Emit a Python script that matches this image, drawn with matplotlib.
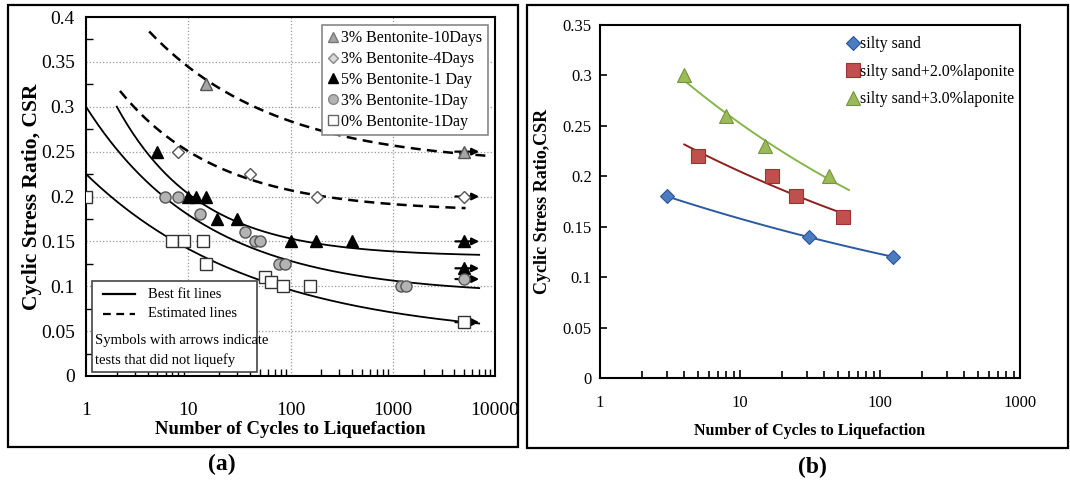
import numpy as np
import matplotlib.pyplot as plt
from matplotlib.patches import Rectangle
from matplotlib.lines import Line2D

plt.rcParams['font.family'] = ['Liberation Serif', 'DejaVu Serif']

# ---------------- panel (a) data: cycles N, CSR ----------------
b10_n = [15]
b10_csr = [0.325]
b10_nl_n = [5000]
b10_nl_csr = [0.25]

b4_n = [8, 40, 180]
b4_csr = [0.25, 0.225, 0.2]
b4_nl_n = [5000]
b4_nl_csr = [0.2]

b5_n = [5, 10, 12, 15, 19, 30, 100, 178, 395]
b5_csr = [0.25, 0.2, 0.2, 0.2, 0.175, 0.175, 0.15, 0.15, 0.15]
b5_nl_n = [5000, 5000]
b5_nl_csr = [0.15, 0.12]

b3_n = [5.9, 7.9, 13, 36, 45, 50, 77, 88, 1200, 1360]
b3_csr = [0.2, 0.2, 0.18, 0.16, 0.15, 0.15, 0.125, 0.125, 0.1, 0.1]
b3_nl_n = [5000]
b3_nl_csr = [0.108]

b0_n = [1, 7, 9, 14, 15, 56, 65, 85, 155]
b0_csr = [0.2, 0.15, 0.15, 0.15, 0.125, 0.11, 0.105, 0.1, 0.1]
b0_nl_n = [5000]
b0_nl_csr = [0.06]

# fitted curves CSR = a + b * N^-c  (10d, 4d, 5%1d, 3%1d, 0%1d)
fit_a = [0.235, 0.183, 0.133, 0.09, 0.04]
fit_b = [0.245, 0.19, 0.243, 0.21, 0.185]
fit_c = [0.35, 0.45, 0.54, 0.37, 0.26]
fit_n0 = [4.15, 2.15, 2.0, 1.0, 1.0]
fit_n1 = [8100, 5150, 7000, 7000, 7000]
fit_dashed = [True, True, False, False, False]

# ---------------- panel (b) data ----------------
ss_n = [3, 31, 124]
ss_csr = [0.18, 0.14, 0.12]
l2_n = [5, 17, 25, 54]
l2_csr = [0.22, 0.2, 0.18, 0.16]
l3_n = [4, 8, 15, 43.5]
l3_csr = [0.3, 0.26, 0.23, 0.2]
trend_rng = [(3, 124), (4, 56), (4, 60)]

fig = plt.figure(figsize=(10.7, 4.88), dpi=100)

# outer frames
fig.patches.append(Rectangle((8/1070, 1-447/488), 510/1070, 442/488, transform=fig.transFigure,
                             fill=False, lw=1.6, ec='k'))
fig.patches.append(Rectangle((527/1070, 1-448/488), 541/1070, 443/488, transform=fig.transFigure,
                             fill=False, lw=1.6, ec='k'))

# ======================= (a) =======================
ax = fig.add_axes([86/1070, 1-376/488, 409/1070, 359/488])
ax.set_xscale('log')
ax.set_xlim(1, 10000)
ax.set_ylim(0, 0.4)
ax.set_yticks(np.arange(0, 0.41, 0.05))
ax.set_yticklabels(['0', '0.05', '0.1', '0.15', '0.2', '0.25', '0.3', '0.35', '0.4'])
ax.set_yticks(np.arange(0.025, 0.4, 0.05), minor=True)
ax.set_xticks([1, 10, 100, 1000, 10000])
ax.set_xticklabels(['1', '10', '100', '1000', '10000'])
ax.grid(True, which='major', ls=':', color='#999999', lw=0.9)
ax.tick_params(which='both', direction='in', labelsize=14, top=False, right=False)
ax.tick_params(axis='x', which='major', length=0, pad=19)
ax.tick_params(axis='x', which='minor', length=5, width=1)
ax.tick_params(axis='y', which='major', length=0, pad=8)
ax.tick_params(axis='y', which='minor', length=5, width=1)
for s in ax.spines.values():
    s.set_linewidth(1.5)

for a, b, c, n0, n1, d in zip(fit_a, fit_b, fit_c, fit_n0, fit_n1, fit_dashed):
    nn = np.logspace(np.log10(n0), np.log10(n1), 200)
    if d:
        ax.plot(nn, a + b * nn ** (-c), color='k', lw=1.8, dashes=(4, 2.5), zorder=2)
    else:
        ax.plot(nn, a + b * nn ** (-c), color='k', lw=1.3, zorder=2)

styles = [
    (b10_n, b10_csr, b10_nl_n, b10_nl_csr, dict(marker='^', ms=8, mfc='#a6a6a6', mec='#555555')),
    (b4_n, b4_csr, b4_nl_n, b4_nl_csr, dict(marker='D', ms=6.5, mfc='white', mec='#555555')),
    (b5_n, b5_csr, b5_nl_n, b5_nl_csr, dict(marker='^', ms=8.5, mfc='black', mec='black')),
    (b3_n, b3_csr, b3_nl_n, b3_nl_csr, dict(marker='o', ms=8, mfc='#b3b3b3', mec='#555555')),
    (b0_n, b0_csr, b0_nl_n, b0_nl_csr, dict(marker='s', ms=8, mfc='white', mec='#333333')),
]
for n, csr, nln, nlc, st in styles:
    ax.plot(n, csr, ls='none', mew=1, zorder=5, **st)
    for x, y in zip(nln, nlc):
        ax.annotate('', xy=(x * 1.4, y), xytext=(x * 0.82, y),
                    arrowprops=dict(arrowstyle='-|>', color='k', lw=1.6, mutation_scale=10,
                                    shrinkA=0, shrinkB=0), zorder=4)
    ax.plot(nln, nlc, ls='none', mew=1, zorder=6, **st)

leg_h = [
    Line2D([], [], ls='none', marker='^', ms=7, mfc='#a6a6a6', mec='#777777'),
    Line2D([], [], ls='none', marker='D', ms=5.5, mfc='#d9d9d9', mec='#888888'),
    Line2D([], [], ls='none', marker='^', ms=7, mfc='black', mec='black'),
    Line2D([], [], ls='none', marker='o', ms=7, mfc='#b3b3b3', mec='#888888'),
    Line2D([], [], ls='none', marker='s', ms=7, mfc='white', mec='#666666'),
]
leg_l = ['3% Bentonite-10Days', '3% Bentonite-4Days', '5% Bentonite-1 Day',
         '3% Bentonite-1Day', '0% Bentonite-1Day']
lg = ax.legend(leg_h, leg_l, loc='upper right', bbox_to_anchor=(0.983, 0.978), borderaxespad=0,
               fontsize=11.5, handlelength=0.7, handletextpad=0.15, labelspacing=0.3,
               borderpad=0.35, fancybox=False, edgecolor='#888888', framealpha=1)
lg.get_frame().set_linewidth(1.2)

# lower-left explanatory box
ax.add_patch(Rectangle((0.015, 0.011), 0.403, 0.254, transform=ax.transAxes, fill=True,
                       fc='white', ec='#444444', lw=1.2, zorder=7))
ax.plot([0.042, 0.12], [0.228, 0.228], transform=ax.transAxes, color='k', lw=1.6, zorder=8)
ax.plot([0.042, 0.12], [0.173, 0.173], transform=ax.transAxes, color='k', lw=1.6,
        dashes=(3.5, 2.5), zorder=8)
ax.text(0.152, 0.228, 'Best fit lines', transform=ax.transAxes, fontsize=10.5, va='center', zorder=8)
ax.text(0.152, 0.173, 'Estimated lines', transform=ax.transAxes, fontsize=10.5, va='center', zorder=8)
ax.text(0.022, 0.098, 'Symbols with arrows indicate', transform=ax.transAxes, fontsize=10.5,
        va='center', zorder=8)
ax.text(0.022, 0.045, 'tests that did not liquefy', transform=ax.transAxes, fontsize=10.5,
        va='center', zorder=8)

ax.set_xlabel('Number of Cycles to Liquefaction', fontsize=13.5, fontweight='bold', labelpad=1)
ax.set_ylabel('Cyclic Stress Ratio, CSR', fontsize=15.5, fontweight='bold', labelpad=-1)

# ======================= (b) =======================
bx = fig.add_axes([600/1070, 1-378/488, 420/1070, 353/488])
bx.set_xscale('log')
bx.set_xlim(1, 1000)
bx.set_ylim(0, 0.35)
bx.set_yticks(np.arange(0, 0.351, 0.05))
bx.set_yticklabels(['0', '0.05', '0.1', '0.15', '0.2', '0.25', '0.3', '0.35'])
bx.set_xticks([1, 10, 100, 1000])
bx.set_xticklabels(['1', '10', '100', '1000'])
bx.tick_params(which='both', direction='in', labelsize=12, top=False, right=False)
bx.tick_params(axis='x', which='major', length=6, width=1.2, pad=12)
bx.tick_params(axis='x', which='minor', length=5, width=1.2)
bx.tick_params(axis='y', which='major', length=5, width=1.2, pad=6)
for s in bx.spines.values():
    s.set_linewidth(1.5)

series_b = [
    (ss_n, ss_csr, 'silty sand', 'D', 7, '#4a7cc0', '#2f5597', '#2a5aa0'),
    (l2_n, l2_csr, 'silty sand+2.0%laponite', 's', 10, '#c0504d', '#9c3330', '#8e1f1f'),
    (l3_n, l3_csr, 'silty sand+3.0%laponite', '^', 10, '#9bbb59', '#76933c', '#86b64a'),
]
for (n, csr, lab, mk, ms, fc, ec, lc), (r0, r1) in zip(series_b, trend_rng):
    p = np.polyfit(np.log(n), np.log(csr), 1)
    nn = np.logspace(np.log10(r0), np.log10(r1), 100)
    bx.plot(nn, np.exp(p[1]) * nn ** p[0], color=lc, lw=1.4, zorder=2)
    bx.plot(n, csr, ls='none', marker=mk, ms=ms, mfc=fc, mec=ec, mew=0.8, label=lab, zorder=4)

bx.legend(loc='upper left', bbox_to_anchor=(0.563, 1.0), frameon=False, fontsize=11.5,
          handlelength=0.65, handletextpad=0.15, labelspacing=0.72, borderaxespad=0.3,
          markerscale=0.95)

bx.set_xlabel('Number of Cycles to Liquefaction', fontsize=11.5, fontweight='bold', labelpad=9)
bx.set_ylabel('Cyclic Stress Ratio,CSR', fontsize=13, fontweight='bold', labelpad=8)

fig.text(222/1070, 1-464/488, '(a)', fontsize=17, fontweight='bold', ha='center', va='center')
fig.text(812/1070, 1-467/488, '(b)', fontsize=17, fontweight='bold', ha='center', va='center')

fig.savefig('out.png', dpi=100)
